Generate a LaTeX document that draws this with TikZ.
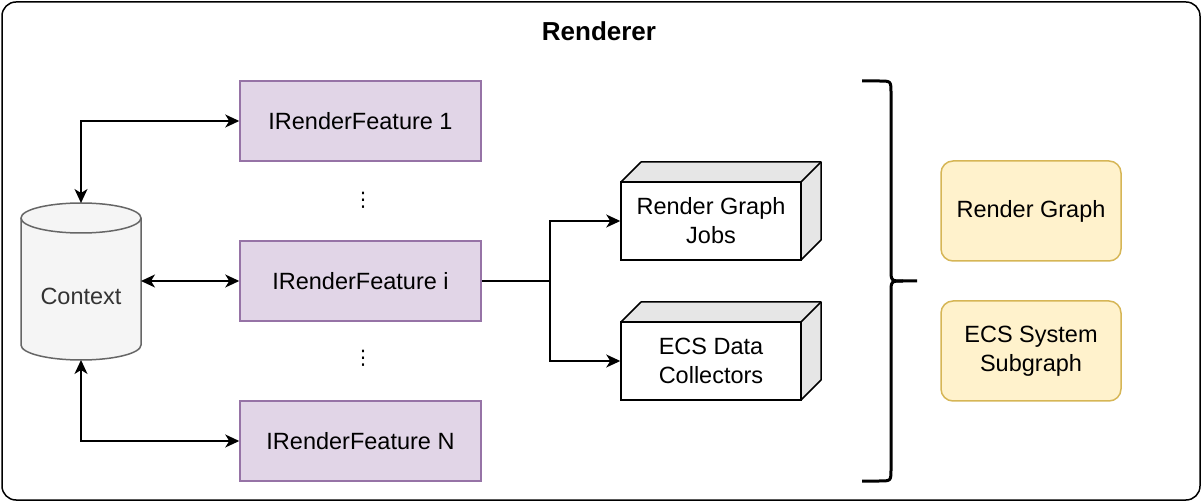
\documentclass[tikz,border=0pt]{standalone}
\usepackage{fontspec}
\setmainfont{Liberation Sans}
\newfontfamily\dejavu{DejaVu Sans}
\usetikzlibrary{arrows.meta,calc}
\definecolor{featfill}{HTML}{E1D5E7}
\definecolor{featdraw}{HTML}{9673A6}
\definecolor{yelfill}{HTML}{FFF2CC}
\definecolor{yeldraw}{HTML}{D6B656}
\definecolor{cylfill}{HTML}{F5F5F5}
\definecolor{cyldraw}{HTML}{666666}
\definecolor{cyltext}{HTML}{333333}
\definecolor{cubeside}{HTML}{E6E6E6}
\begin{document}
\begin{tikzpicture}[x=1pt,y=-1pt,
  txt/.style={font=\fontsize{23.5}{29}\selectfont, align=center},
  feat/.style={txt, draw=featdraw, fill=featfill, line width=1.5pt, minimum width=241pt, minimum height=80pt, inner sep=0pt},
  yel/.style={txt, draw=yeldraw, fill=yelfill, line width=1.5pt, rounded corners=12pt, minimum width=180pt, minimum height=100pt, inner sep=0pt},
  tip/.tip={Stealth[length=14pt,width=13pt,inset=4pt]},
  conn/.style={line width=1.5pt, -tip},
  bconn/.style={line width=1.5pt, tip-tip},
  cubeline/.style={line width=1.5pt, line join=round},
  dotsty/.style={font=\dejavu\fontsize{20}{24}\selectfont, inner sep=0pt}
]
\useasboundingbox (0,0) rectangle (1202,502);
% outer frame
\node[draw, line width=1.5pt, rounded corners=14pt, minimum width=1198pt, minimum height=498pt, inner sep=0pt] (frame) at (601,251) {};
\node[font=\fontsize{26}{31}\selectfont\bfseries] (title) at (599,31) {Renderer};

% features
\node[feat] (f1) at (360.5,121) {IRenderFeature 1};
\node[feat] (fi) at (360.5,281) {IRenderFeature i};
\node[feat] (fn) at (360.5,441) {IRenderFeature N};
\node[dotsty] (d1) at (363,200) {⋮};
\node[dotsty] (d2) at (363,358) {⋮};

% cylinder (Context)
\coordinate (ctop) at (81,203);
\coordinate (cbot) at (81,360);
\coordinate (cright) at (141,281);
\draw[draw=cyldraw, fill=cylfill, line width=1.5pt]
  (21,218) -- (21,345) arc[start angle=180, end angle=360, x radius=60, y radius=-15]
  -- (141,218) arc[start angle=0, end angle=180, x radius=60, y radius=-15] -- cycle;
\draw[draw=cyldraw, line width=1.5pt] (21,218) arc[start angle=180, end angle=360, x radius=60, y radius=-15];
\node[txt, text=cyltext] (ctx) at (81,296) {Context};

% cubes
\foreach \n/\yy/\lab in {rgj/182/{Render Graph\\Jobs}, ecs/322/{ECS Data\\Collectors}} {
  \fill[cubeside] (621,\yy) -- (641,\yy-20) -- (821,\yy-20) -- (821,\yy+58) -- (801,\yy+78) -- (801,\yy) -- cycle;
  \draw[cubeline] (621,\yy) -- (641,\yy-20) -- (821,\yy-20) -- (821,\yy+58) -- (801,\yy+78);
  \draw[cubeline] (801,\yy) -- (821,\yy-20);
  \node[txt, draw, fill=white, line width=1.5pt, minimum width=180pt, minimum height=78pt, inner sep=0pt] (\n) at (711,\yy+39) {\lab};
}

% connectors
\draw[bconn] (ctop) |- (f1.west);
\draw[bconn] (cright) -- (fi.west);
\draw[bconn] (cbot) |- (fn.west);
\coordinate (split) at (550,281);
\draw[line width=1.5pt] (fi.east) -- (split);
\draw[conn] (split) |- (rgj.west);
\draw[conn] (split) |- (ecs.west);

% brace
\coordinate (bracetip) at (917,281);
\draw[line width=3pt, line join=round]
  (862,81) -- (879,81) .. controls (891,81) .. (891,93)
  -- (891,269) .. controls (891,281) .. (903,281) -- (bracetip);
\draw[line width=3pt, line join=round]
  (903,281) .. controls (891,281) .. (891,293)
  -- (891,469) .. controls (891,481) .. (879,481) -- (862,481);

% yellow boxes
\node[yel] (rg) at (1031,211) {Render Graph};
\node[yel] (ecsg) at (1031,351) {ECS System\\Subgraph};
\end{tikzpicture}
\end{document}
